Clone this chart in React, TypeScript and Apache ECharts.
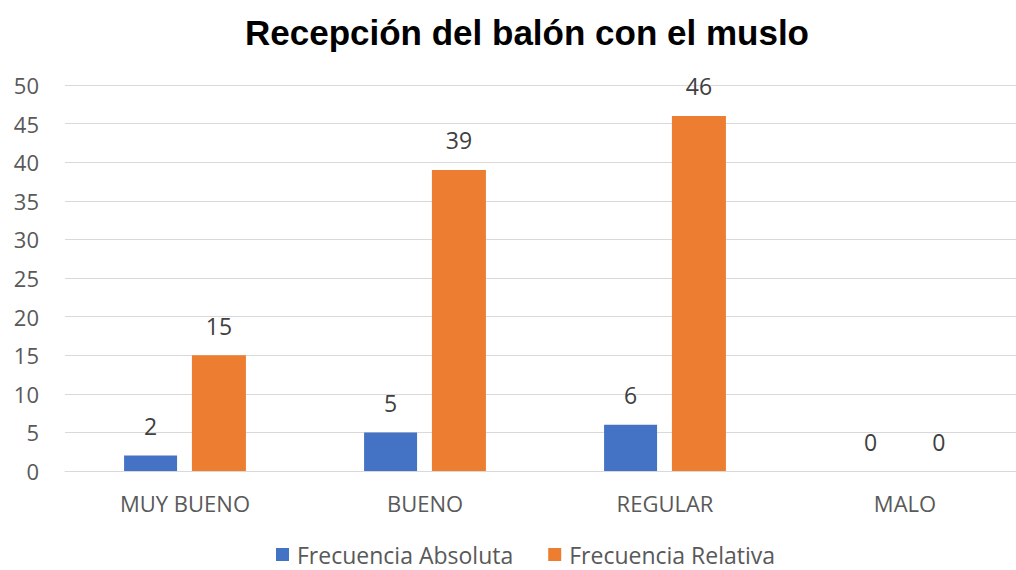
import React, { useEffect, useRef } from "react";
import * as echarts from "echarts";

const categories = ["MUY BUENO", "BUENO", "REGULAR", "MALO"];
const absoluta = [2, 5, 6, 0];
const relativa = [15, 39, 46, 0];
const seriesNames = ["Frecuencia Absoluta", "Frecuencia Relativa"];
const titleText = "Recepción del balón con el muslo";

export default function App() {
  const ref = useRef<HTMLDivElement>(null);
  useEffect(() => {
    if (!ref.current) return;
    const chart = echarts.init(ref.current, undefined, { renderer: "svg" });
    const font = "'Open Sans', 'Noto Sans', sans-serif";
    const label = {
      show: true,
      position: "top",
      distance: 18,
      color: "#404040",
      fontSize: 23,
      fontFamily: font,
    };
    chart.setOption({
      animation: false,
      backgroundColor: "#ffffff",
      title: {
        text: titleText,
        left: 240,
        top: 10,
        textStyle: {
          fontFamily: "'Liberation Sans', Arial, sans-serif",
          fontWeight: "bold",
          fontSize: 35,
          color: "#000000",
        },
      },
      legend: {
        bottom: -1,
        left: 271,
        itemWidth: 13,
        itemHeight: 13,
        itemGap: 35,
        icon: "rect",
        textStyle: {
          fontFamily: font,
          fontSize: 23,
          color: "#595959",
          padding: [0, 0, 0, 3],
        },
        data: seriesNames,
      },
      grid: { left: 65, top: 85, right: 5, bottom: 99 },
      xAxis: {
        type: "category",
        data: categories,
        axisLine: { lineStyle: { color: "#d9d9d9" } },
        axisTick: { show: false },
        axisLabel: { color: "#595959", fontSize: 22, fontFamily: font, margin: 21 },
      },
      yAxis: {
        type: "value",
        min: 0,
        max: 50,
        interval: 5,
        axisLine: { show: false },
        axisTick: { show: false },
        splitLine: { lineStyle: { color: "#d9d9d9", width: 1 } },
        axisLabel: { color: "#595959", fontSize: 22, fontFamily: font, margin: 26 },
      },
      series: [
        {
          name: seriesNames[0],
          type: "bar",
          data: absoluta,
          itemStyle: { color: "#4472c4" },
          barWidth: 53,
          barGap: "28%",
          label,
        },
        {
          name: seriesNames[1],
          type: "bar",
          data: relativa,
          itemStyle: { color: "#ed7d31" },
          barWidth: 54,
          label,
        },
      ],
    });
    return () => chart.dispose();
  }, []);
  return (
    <div
      style={{
        position: "absolute",
        left: 0,
        top: 0,
        width: 1016,
        height: 570,
        overflow: "hidden",
      }}
    >
      <div ref={ref} style={{ width: 1030, height: 570 }} />
    </div>
  );
}
